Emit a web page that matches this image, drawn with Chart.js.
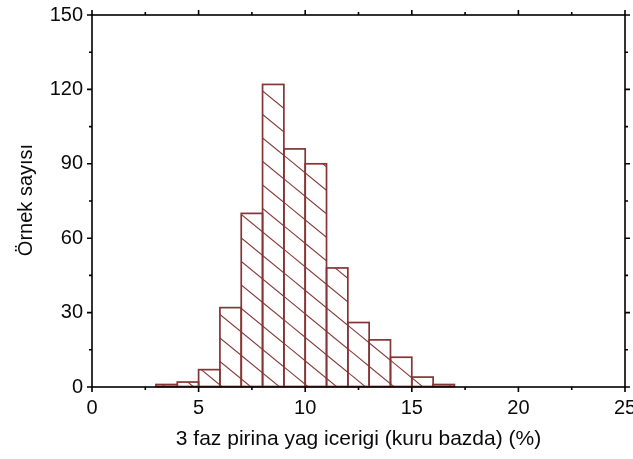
<!DOCTYPE html>
<html><head><meta charset="utf-8">
<script src="https://cdn.jsdelivr.net/npm/chart.js@4/dist/chart.umd.min.js"></script>
<style>html,body{margin:0;padding:0;background:#fff}#wrap{width:633px;height:459px}</style>
</head><body><div id="wrap"><canvas id="c" width="633" height="459"></canvas></div>
<script>
const binCenters = [3.5,4.5,5.5,6.5,7.5,8.5,9.5,10.5,11.5,12.5,13.5,14.5,15.5,16.5];
const counts = [1,2,7,32,70,122,96,90,48,26,19,12,4,1];
const xTicks = [0,5,10,15,20,25];
const xMinorTicks = [2.5,7.5,12.5,17.5,22.5];
const yTicks = [0,30,60,90,120,150];
const yMinorTicks = [15,45,75,105,135];
const xTitle = '3 faz pirina yag icerigi (kuru bazda) (%)';
const yTitle = 'Örnek sayısı';

const barColor = '#853535';
const hatchColor = '#8a3b3b';
const FONT = 'Liberation Sans, Arial, sans-serif';
const TEXT = '#0a0a0a';

const hatchPlugin = {
  id: 'hatch',
  afterDatasetsDraw(chart) {
    const ctx = chart.ctx;
    const meta = chart.getDatasetMeta(0);
    const slope = 0.82, sp = 23.5, phase = 16.6;
    meta.data.forEach(el => {
      const p = el.getProps(['x','y','base','width'], true);
      const l = p.x - p.width/2, r = p.x + p.width/2;
      const t = Math.min(p.y, p.base), b = Math.max(p.y, p.base);
      ctx.save();
      ctx.beginPath(); ctx.rect(l, t, r-l, b-t); ctx.clip();
      ctx.strokeStyle = hatchColor; ctx.lineWidth = 1.1;
      ctx.beginPath();
      const cMin = t - slope*(r+2), cMax = b - slope*(l-2);
      let c = Math.floor((cMin - phase)/sp)*sp + phase;
      for (; c <= cMax; c += sp) {
        ctx.moveTo(l-2, slope*(l-2)+c);
        ctx.lineTo(r+2, slope*(r+2)+c);
      }
      ctx.stroke();
      ctx.restore();
      ctx.save();
      ctx.strokeStyle = barColor; ctx.lineWidth = 1.7;
      ctx.strokeRect(l, t, r-l, b-t);
      ctx.restore();
    });
  }
};

const framePlugin = {
  id: 'frame',
  afterDraw(chart) {
    const ctx = chart.ctx;
    const {left, right, top, bottom} = chart.chartArea;
    const xs = chart.scales.x, ys = chart.scales.y;
    ctx.save();
    ctx.strokeStyle = '#000';
    ctx.lineWidth = 1.6;
    ctx.strokeRect(left, top, right-left, bottom-top);
    ctx.beginPath();
    const tick = (arr, len) => {
      arr.forEach(v => {
        const px = xs.getPixelForValue(v);
        ctx.moveTo(px, bottom); ctx.lineTo(px, bottom + len);
        ctx.moveTo(px, top); ctx.lineTo(px, top - len);
      });
    };
    const ytick = (arr, len) => {
      arr.forEach(v => {
        const py = ys.getPixelForValue(v);
        ctx.moveTo(left, py); ctx.lineTo(left - len, py);
        ctx.moveTo(right, py); ctx.lineTo(right + len, py);
      });
    };
    tick(xTicks, 5); tick(xMinorTicks, 3);
    ytick(yTicks, 5); ytick(yMinorTicks, 3);
    ctx.stroke();
    // y axis title
    ctx.fillStyle = TEXT;
    ctx.font = '20px ' + FONT;
    ctx.textAlign = 'center';
    ctx.textBaseline = 'middle';
    ctx.translate(26, 200);
    ctx.rotate(-Math.PI/2);
    ctx.fillText(yTitle, 0, 0);
    ctx.restore();
  }
};

new Chart(document.getElementById('c'), {
  type: 'bar',
  data: {
    datasets: [{
      data: binCenters.map((x, i) => ({x: x, y: counts[i]})),
      backgroundColor: 'rgba(0,0,0,0)',
      borderWidth: 0,
      barPercentage: 1,
      categoryPercentage: 1
    }]
  },
  options: {
    responsive: false,
    devicePixelRatio: 1,
    animation: false,
    layout: {padding: {top: 14, right: 8, left: 0, bottom: 0}},
    plugins: {legend: {display: false}, tooltip: {enabled: false}},
    scales: {
      x: {
        type: 'linear', min: 0, max: 25, offset: false,
        afterBuildTicks: s => { s.ticks = xTicks.map(v => ({value: v})); },
        afterFit: s => { s.paddingLeft = 0; s.paddingRight = 0; s.height = 72; },
        grid: {display: true, drawOnChartArea: false, drawTicks: true, tickLength: 6, color: 'rgba(0,0,0,0)'},
        border: {display: false},
        ticks: {font: {family: FONT, size: 20}, color: TEXT, padding: 3, maxRotation: 0, autoSkip: false},
        title: {display: true, text: xTitle, font: {family: FONT, size: 21}, color: TEXT, padding: {top: 6, bottom: 7}}
      },
      y: {
        min: 0, max: 150,
        afterBuildTicks: s => { s.ticks = yTicks.map(v => ({value: v})); },
        afterFit: s => { s.width = 92; },
        grid: {display: true, drawOnChartArea: false, drawTicks: true, tickLength: 6, color: 'rgba(0,0,0,0)'},
        border: {display: false},
        ticks: {font: {family: FONT, size: 20}, color: TEXT, padding: 3}
      }
    }
  },
  plugins: [hatchPlugin, framePlugin]
});
</script>
</body></html>
